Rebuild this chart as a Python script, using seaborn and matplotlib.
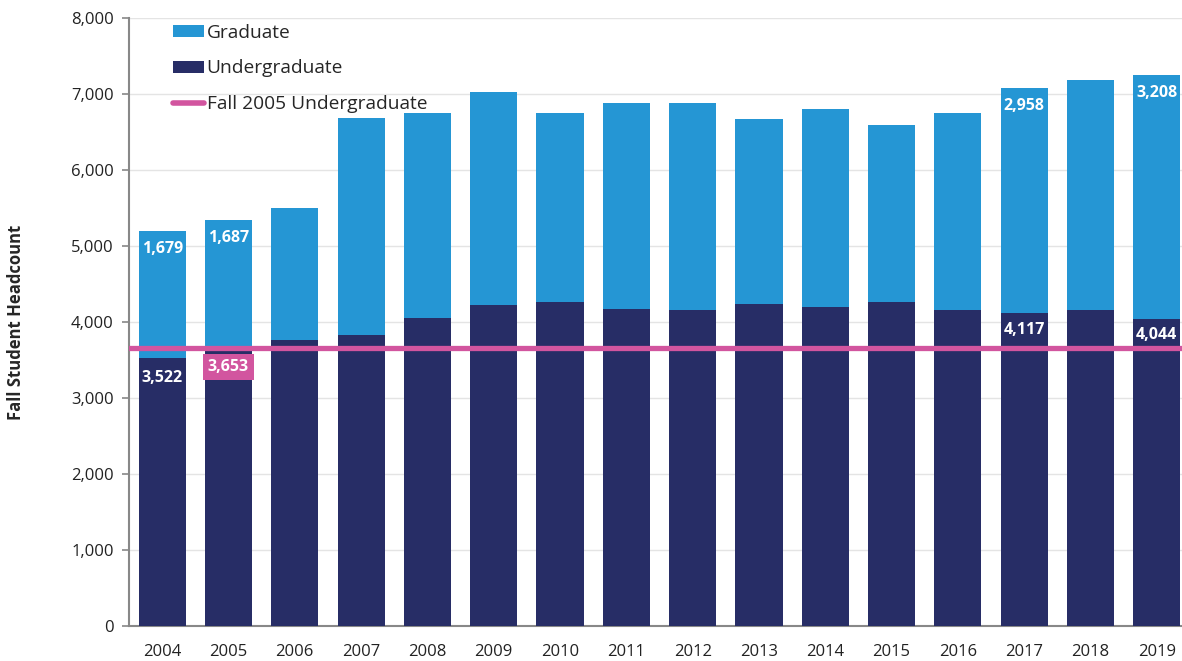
import matplotlib
matplotlib.use("Agg")
import matplotlib.pyplot as plt
import seaborn as sns
import pandas as pd
from matplotlib.patches import Patch
from matplotlib.lines import Line2D

# data
years = ['2004', '2005', '2006', '2007', '2008', '2009', '2010', '2011',
         '2012', '2013', '2014', '2015', '2016', '2017', '2018', '2019']
undergrad = [3522, 3653, 3762, 3828, 4047, 4222, 4266, 4170,
             4157, 4236, 4200, 4258, 4153, 4117, 4153, 4044]
graduate = [1679, 1687, 1738, 2853, 2700, 2805, 2484, 2708,
            2721, 2431, 2607, 2330, 2594, 2958, 3032, 3208]

# which bars carry value labels
labelled = ['2004', '2005', '2017', '2019']

grad_col = '#2596D4'
ugrad_col = '#272D66'
pink = '#D2559F'

df = pd.DataFrame({'year': years, 'undergrad': undergrad, 'graduate': graduate})
df['total'] = df['undergrad'] + df['graduate']

sns.set_style('white')
plt.rcParams['font.family'] = ['Open Sans', 'DejaVu Sans']

fig = plt.figure(figsize=(11.82, 6.61), dpi=100)
ax = fig.add_axes([129 / 1182, 35 / 661, 1061 / 1182, 608 / 661])

# graduate stacked on undergrad: draw total, then undergrad over it
sns.barplot(data=df, x='year', y='total', color=grad_col, width=0.71,
            saturation=1, linewidth=0, ax=ax, zorder=2)
sns.barplot(data=df, x='year', y='undergrad', color=ugrad_col, width=0.71,
            saturation=1, linewidth=0, ax=ax, zorder=3)

ax.axhline(undergrad[1], color=pink, lw=3.8, zorder=4)

ax.set_xlim(-0.5, 15.5)
ax.set_ylim(0, 8000)
ax.set_yticks(range(0, 8001, 1000))
ax.set_yticklabels([f'{v:,}' for v in range(0, 8001, 1000)], fontsize=12, color='#222222')
ax.tick_params(axis='x', length=0, labelsize=12, labelcolor='#222222', pad=13)
ax.tick_params(axis='y', length=5, color='#888888', width=1.2, pad=6, left=True)
ax.yaxis.grid(True, color='#E4E4E4', lw=1, zorder=0)
ax.set_axisbelow(True)
ax.set_xlabel('')
ax.set_ylabel('Fall Student Headcount', fontsize=12, fontweight='bold', labelpad=33)
for s in ['top', 'right']:
    ax.spines[s].set_visible(False)
for s in ['left', 'bottom']:
    ax.spines[s].set_color('#888888')
    ax.spines[s].set_linewidth(1.5)

# value labels
lab = dict(ha='center', va='center', color='white', fontsize=11.5,
           fontweight='bold', zorder=5, textcoords='offset points')
for i, yr in enumerate(years):
    if yr not in labelled:
        continue
    u = undergrad[i]
    t = u + graduate[i]
    ax.annotate(f'{graduate[i]:,}', (i, t), xytext=(0, -13), **lab)
    if yr == '2005':
        ax.annotate(f'{u:,}', (i, u), xytext=(0, -13.5),
                    bbox=dict(boxstyle='square,pad=0.3', fc=pink, ec='none'), **lab)
    elif yr == '2004':
        ax.annotate(f'{u:,}', (i, u), xytext=(0, -14), **lab)
    else:
        ax.annotate(f'{u:,}', (i, u), xytext=(0, -12), **lab)

handles = [Patch(facecolor=grad_col, edgecolor='none'),
           Patch(facecolor=ugrad_col, edgecolor='none'),
           Line2D([0], [0], color=pink, lw=4, solid_capstyle='round')]
leg = ax.legend(handles, ['Graduate', 'Undergraduate', 'Fall 2005 Undergraduate'],
                loc='upper left', bbox_to_anchor=(0.034, 1.003), frameon=False,
                fontsize=13.8, handlelength=1.65, handleheight=0.62, handletextpad=0.12,
                labelspacing=0.92, borderaxespad=0)
leg.set_zorder(6)

fig.savefig('out.png', dpi=100)
